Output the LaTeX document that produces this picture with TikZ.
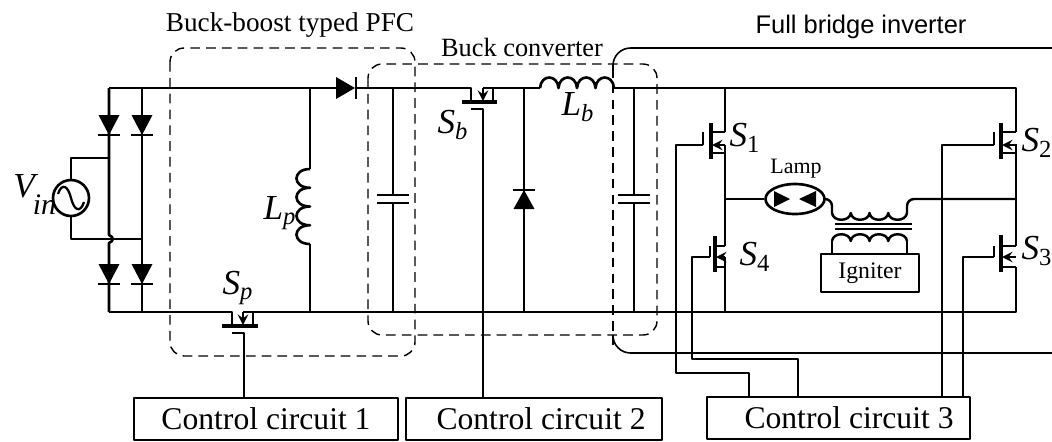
\documentclass[tikz,border=0pt]{standalone}
\usepackage{fontspec}
\usetikzlibrary{shapes.geometric}
\setmainfont{Liberation Serif}
\newfontfamily\arialfont{Liberation Sans}
\newcommand{\symb}[2]{\textit{#1}\textsubscript{\textit{#2}}}
\begin{document}
\begin{tikzpicture}
[x=0.02cm,y=-0.02cm,>=stealth,line width=1.5pt,line join=round,
wire/.style={line width=1.4pt},
thin wire/.style={line width=0.9pt},
dashbox/.style={line width=0.8pt,dash pattern=on 5.5pt off 3.5pt,rounded corners=8pt},
ctrlbox/.style={draw,line width=1.1pt,minimum height=0.84cm,inner sep=0pt,font=\fontsize{18}{18}\selectfont},
symbol/.style={inner sep=0pt,font=\fontsize{20}{20}\selectfont},
title/.style={inner sep=0pt,font=\fontsize{15.5}{16}\selectfont},
]
\useasboundingbox (0,0) rectangle (1052,441);

%Diode pointing down, apex at #2
\def\diodedown#1#2{\fill (#1-10.5,#2-20) -- (#1+10.5,#2-20) -- (#1,#2) -- cycle;
\draw (#1-11,#2) -- (#1+11,#2);}
%Capacitor on a vertical wire
\def\capv#1{\draw (#1,88) -- (#1,195) (#1,203) -- (#1,312);
\draw (#1-16,195) -- (#1+16,195) (#1-16,203) -- (#1+16,203);}
%Bridge switch: rail, channel, gate bar, then y of channel top, upper stub, arrow, lower stub, channel bottom
\def\fet#1#2#3#4#5#6#7#8{\draw (#1,#5) -- (#2,#5) (#1,#7) -- (#2,#7) (#3,#5) -- (#3,#6);
\draw[line width=2.2pt] (#2,#4) -- (#2,#8);
\draw[->,line width=1.6pt] (#1,#6) -- (#2+1,#6);}

%Labeling points
\coordinate (TL) at (109,88);
\coordinate (TR) at (142,88);
\coordinate (BL) at (109,312);
\coordinate (BR) at (142,312);
\coordinate (D) at (336,88);
\coordinate (Lpa) at (310,169);
\coordinate (Lpb) at (310,244);
\coordinate (Lba) at (540,88);
\coordinate (Lbb) at (614,88);
\coordinate (Gp) at (244,333);
\coordinate (Gb) at (483,109);
\coordinate (G1) at (703,145);
\coordinate (G2) at (994,145);
\coordinate (G3) at (994,257);
\coordinate (G4) at (710,257);
\coordinate (Mid) at (725,199);
\coordinate (MidR) at (1016,199);

%Control boxes
\node (cc1) at (266,419)[ctrlbox,minimum width=5.28cm] {Control circuit 1};
\node (cc2) at (534,419)[ctrlbox,minimum width=5.12cm] {\hspace{8pt}Control circuit 2};
\node (cc3) at (838.5,418)[ctrlbox,minimum width=5.26cm] {\hspace{12pt}Control circuit 3};

%Source and rectifier
\node (Vs) at (71,198)[draw,circle,minimum size=0.72cm,inner sep=0pt] {};
\draw (Vs.north) -- (71,158) -- (109,158);
\draw (Vs.south) -- (71,239) -- (142,239);
\draw[line width=1.3pt] (58,194) .. controls (62,182) and (68,186) .. (71,198) .. controls (74,210) and (80,214) .. (84,202);
\draw (TL) -- (109,235) .. controls (114,237) and (114,241) .. (109,243) -- (BL);
\draw (TR) -- (BR);
\diodedown{109}{135}
\diodedown{142}{135}
\diodedown{109}{284}
\diodedown{142}{284}
\node (Vin) at (12,197)[symbol,anchor=base west] {\textit{V}\hspace{-3pt}\raisebox{-10pt}{\fontsize{17}{17}\selectfont\textit{in}}};

%Top and bottom rails
\draw (TL) -- (D);
\fill (336,77) -- (355,88) -- (336,99) -- cycle;
\draw (356,77) -- (356,99);
\draw (356,88) -- (471,88) -- (471,102);
\draw (BL) -- (232,312) -- (232,326);
\draw (243,312) -- (1016,312) -- (1016,267);
\draw (253,312) -- (253,326);

%Sp
\draw[line width=2pt] (222,326) -- (258,326);
\draw[->,line width=1.6pt] (243,312) -- (243,325);
\draw (232,333) -- (Gp) -- (Gp |- cc1.north);
\node (Sp) at (238,288)[symbol] {\symb{S}{p}};

%Lp
\draw (310,88) -- (Lpa);
\draw (Lpa) \foreach \i in {1,...,4} {.. controls +(-18,0) and +(-18,0) .. ++(0,18.75)};
\draw (Lpb) -- (310,312);
\node (Lp) at (280,213)[symbol] {\symb{L}{p}};

%Sb
\draw[line width=2pt] (462,102) -- (497,102);
\draw[->,line width=1.6pt] (483,88) -- (483,101);
\draw (493,102) -- (493,88) -- (483,88);
\draw (471,109) -- (Gb) -- (Gb |- cc2.north);
\node (Sb) at (453,125)[symbol] {\symb{S}{b}};
\draw (493,88) -- (Lba);

%Lb
\draw (Lba) \foreach \i in {1,...,4} {.. controls +(1,-14) and +(-1,-14) .. ++(18.5,0)};
\node (Lb) at (578,107)[symbol] {\symb{L}{b}};

%Capacitors and freewheel diode
\capv{393}
\capv{634}
\draw (524,88) -- (524,312);
\fill (524,190) -- (534.5,209) -- (513.5,209) -- cycle;
\draw (513,190) -- (535,190);

%Bridge
\draw[wire] (Lbb) -- (1016,88) -- (1016,132);
\draw (725,88) -- (725,132);
\draw (725,145) -- (725,246);
\draw (725,257) -- (725,312);
\draw (1016,144) -- (1016,246);
\fet{725}{711}{703}{123}{132}{145}{153}{159}
\fet{725}{715}{710}{236}{246}{257}{267}{272}
\fet{1016}{1001}{994}{123}{132}{145}{153}{159}
\fet{1016}{1001}{994}{235}{246}{257}{267}{272}
\node (S1) at (745,138)[symbol,anchor=center] {\symb{S}{\normalfont 1}};
\node (S2) at (1037,143)[symbol] {\symb{S}{\normalfont 2}};
\node (S3) at (1037,251)[symbol] {\symb{S}{\normalfont 3}};
\node (S4) at (755,257)[symbol] {\symb{S}{\normalfont 4}};

%Gate wires
\draw[wire] (G1) -- (676,145) -- (676,373) -- (749,373) -- (749,0 |- cc3.north);
\draw[wire] (G4) -- (692,257) -- (692,359) -- (798,359) -- (798,0 |- cc3.north);
\draw[wire] (G2) -- (942,145) -- (942,0 |- cc3.north);
\draw[wire] (G3) -- (963,257) -- (963,0 |- cc3.north);

%Lamp and igniter
\node (lamp) at (795,199)[draw,ellipse,minimum width=1.18cm,minimum height=0.6cm,inner sep=0pt] {};
\fill (774,191) -- (790,199) -- (774,207) -- cycle;
\fill (816,191) -- (799,199) -- (816,207) -- cycle;
\node (lamptext) at (796,169)[inner sep=0pt,font=\fontsize{12.5}{13}\selectfont] {Lamp};
\node (igniter) at (870,273)[draw,line width=1.1pt,minimum width=1.96cm,minimum height=0.76cm,inner sep=0pt,font=\fontsize{13.5}{14}\selectfont] {Igniter};
\draw[wire] (Mid) -- (lamp.west);
\draw[wire,rounded corners=4pt] (lamp.east) -- (832,199) -- (832,213);
\draw[wire,rounded corners=4pt] (907,213) -- (907,199) -- (MidR);
\draw[wire] (832,213) \foreach \i in {1,...,4} {.. controls +(1,9) and +(-1,9) .. ++(18.75,0)};
\draw[line width=1pt] (835,224) -- (912,224) (835,229) -- (912,229);
\draw[wire] (832,254) -- (832,241) (907,241) -- (907,254);
\draw[wire] (832,241) \foreach \i in {1,...,4} {.. controls +(1,-9) and +(-1,-9) .. ++(18.75,0)};

%Dashed regions
\draw[dashbox] (170,48) rectangle (415,356);
\draw[dashbox] (368,64) rectangle (657,335);
\draw[thin wire,rounded corners=10pt] (1052,48) -- (613,48) -- (613,75);
\draw[dashbox] (613,68) -- (613,345);
\draw[thin wire,rounded corners=10pt] (613,338) -- (613,353) -- (1052,353);

%Titles
\node (pfc) at (290,25)[title] {Buck-boost typed PFC};
\node (buck) at (522,47)[title,font=\fontsize{15}{16}\selectfont] {Buck converter};
\node (fbi) at (861,27)[title,font=\arialfont\fontsize{14.5}{16}\selectfont] {Full bridge inverter};

\end{tikzpicture}
\end{document}
